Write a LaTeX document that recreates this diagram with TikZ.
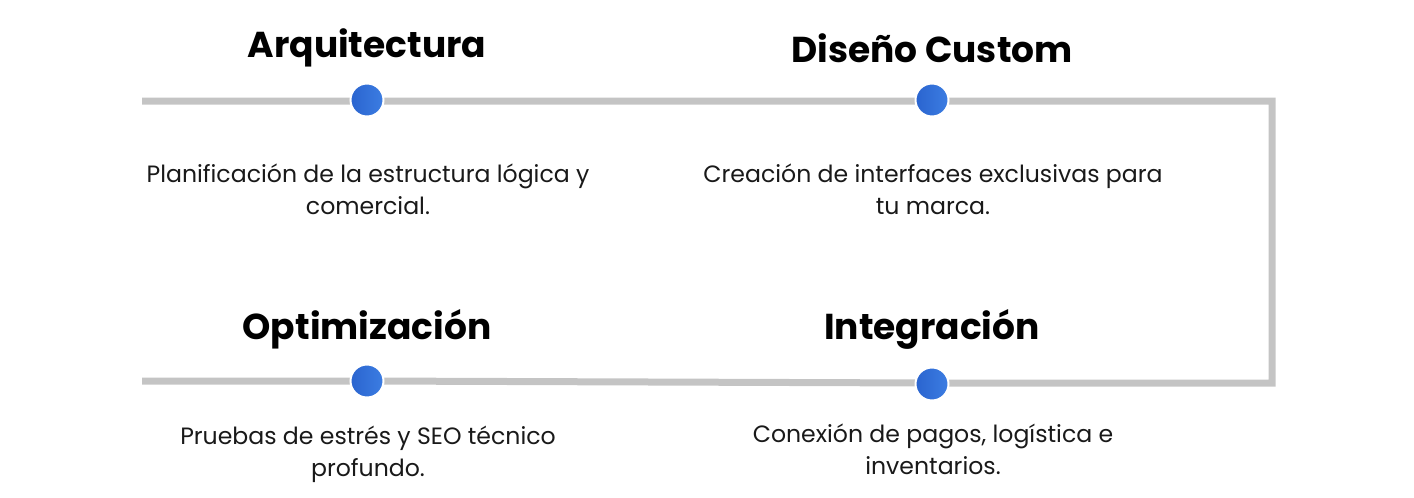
\documentclass[tikz,border=0pt]{standalone}
\usepackage{fontspec}
\setmainfont{Poppins}
\definecolor{linegray}{HTML}{C4C4C4}
\definecolor{dotA}{HTML}{2A64CF}
\definecolor{dotB}{HTML}{3C7DE2}
\begin{document}
\begin{tikzpicture}[x=1pt,y=-1pt,
  track/.style={draw=linegray,line width=7pt},
  dot/.style={circle,minimum size=33pt,inner sep=0pt,draw=white,line width=2pt,left color=dotA,right color=dotB},
  heading/.style={font=\fontsize{36}{40}\selectfont\bfseries,text=black,inner sep=0pt},
  body/.style={font=\fontsize{23.6}{32}\selectfont,text=black!90,align=center,inner sep=0pt}]
\useasboundingbox (0,0) rectangle (1414,498);
% track
\coordinate (tl) at (142,101);
\coordinate (tr) at (1272,101);
\coordinate (br) at (1272,383);
\coordinate (bl) at (142,381);
\draw[track] (tl) -- (tr) -- (br) -- (932,383) -- (367,381) -- (bl);
% dots
\node[dot] (d1) at (367,100) {};
\node[dot] (d2) at (932,100) {};
\node[dot] (d3) at (367,381) {};
\node[dot] (d4) at (932,384) {};
% headings
\node[heading] (h1) at (367,48) {Arquitectura};
\node[heading] (h2) at (932,48) {Diseño Custom};
\node[heading] (h3) at (367,329) {Optimización};
\node[heading] (h4) at (932,329) {Integración};
% bodies
\node[body] (b1) at (368,189) {Planificación de la estructura lógica y\\comercial.};
\node[body] (b2) at (933,189) {Creación de interfaces exclusivas para\\tu marca.};
\node[body] (b3) at (368,454) {Pruebas de estrés y SEO técnico\\profundo.};
\node[body] (b4) at (933,449) {Conexión de pagos, logística e\\inventarios.};
\end{tikzpicture}
\end{document}
